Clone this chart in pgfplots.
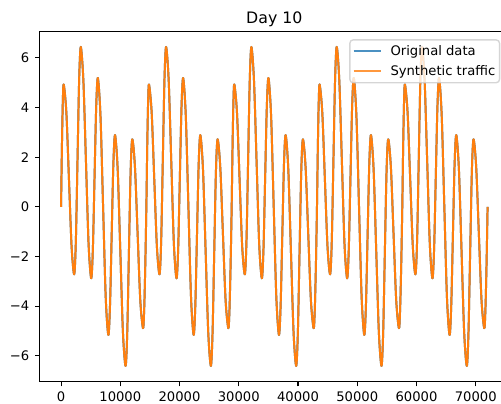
\documentclass[border=0pt]{standalone}
\usepackage{fontspec}
\setmainfont{DejaVu Sans}
\usepackage{pgfplots}
\usepackage{pgfplotstable}
\pgfplotsset{compat=1.18}
\definecolor{mplblue}{HTML}{1F77B4}
\definecolor{mplorange}{HTML}{FF7F0E}
\definecolor{legendedge}{HTML}{CCCCCC}
\newcommand{\lgfont}{\fontsize{9.46}{11.4}\selectfont}

\pgfplotstableread{
x y
0 0
150 2.47
300 4.27
450 4.93
893 3.81
1335 1.11
1778 -1.60
2220 -2.72
2498 -1.38
2775 1.86
3053 5.10
3330 6.44
3770 5.08
4210 1.78
4650 -1.52
5090 -2.88
5370 -1.70
5650 1.16
5930 4.01
6210 5.19
6653 3.68
7095 0.02
7538 -3.64
7980 -5.16
8263 -3.98
8545 -1.14
8828 1.71
9110 2.89
9555 1.53
10000 -1.76
10445 -5.05
10890 -6.41
11173 -5.07
11455 -1.85
11738 1.38
12020 2.72
12473 1.61
12925 -1.09
13378 -3.78
13830 -4.89
14020 -4.23
14210 -2.45
14400 0
14550 2.47
14700 4.27
14850 4.93
15293 3.81
15735 1.11
16178 -1.60
16620 -2.72
16898 -1.38
17175 1.86
17453 5.10
17730 6.44
18170 5.08
18610 1.78
19050 -1.52
19490 -2.88
19770 -1.70
20050 1.16
20330 4.01
20610 5.19
21053 3.68
21495 0.02
21938 -3.64
22380 -5.16
22663 -3.98
22945 -1.14
23228 1.71
23510 2.89
23955 1.53
24400 -1.76
24845 -5.05
25290 -6.41
25573 -5.07
25855 -1.85
26138 1.38
26420 2.72
26873 1.61
27325 -1.09
27778 -3.78
28230 -4.89
28420 -4.23
28610 -2.45
28800 0
28950 2.47
29100 4.27
29250 4.93
29693 3.81
30135 1.11
30578 -1.60
31020 -2.72
31298 -1.38
31575 1.86
31853 5.10
32130 6.44
32570 5.08
33010 1.78
33450 -1.52
33890 -2.88
34170 -1.70
34450 1.16
34730 4.01
35010 5.19
35453 3.68
35895 0.02
36338 -3.64
36780 -5.16
37063 -3.98
37345 -1.14
37628 1.71
37910 2.89
38355 1.53
38800 -1.76
39245 -5.05
39690 -6.41
39973 -5.07
40255 -1.85
40538 1.38
40820 2.72
41273 1.61
41725 -1.09
42178 -3.78
42630 -4.89
42820 -4.23
43010 -2.45
43200 0
43350 2.47
43500 4.27
43650 4.93
44093 3.81
44535 1.11
44978 -1.60
45420 -2.72
45698 -1.38
45975 1.86
46253 5.10
46530 6.44
46970 5.08
47410 1.78
47850 -1.52
48290 -2.88
48570 -1.70
48850 1.16
49130 4.01
49410 5.19
49853 3.68
50295 0.02
50738 -3.64
51180 -5.16
51463 -3.98
51745 -1.14
52028 1.71
52310 2.89
52755 1.53
53200 -1.76
53645 -5.05
54090 -6.41
54373 -5.07
54655 -1.85
54938 1.38
55220 2.72
55673 1.61
56125 -1.09
56578 -3.78
57030 -4.89
57220 -4.23
57410 -2.45
57600 0
57750 2.47
57900 4.27
58050 4.93
58493 3.81
58935 1.11
59378 -1.60
59820 -2.72
60098 -1.38
60375 1.86
60653 5.10
60930 6.44
61370 5.08
61810 1.78
62250 -1.52
62690 -2.88
62970 -1.70
63250 1.16
63530 4.01
63810 5.19
64253 3.68
64695 0.02
65138 -3.64
65580 -5.16
65863 -3.98
66145 -1.14
66428 1.71
66710 2.89
67155 1.53
67600 -1.76
68045 -5.05
68490 -6.41
68773 -5.07
69055 -1.85
69338 1.38
69620 2.72
70073 1.61
70525 -1.09
70978 -3.78
71430 -4.89
71620 -4.23
71810 -2.45
72000 0
}\daydata

\begin{document}
\begin{tikzpicture}
\path[use as bounding box, clip] (-28.6pt,-15.3pt) rectangle (332.1pt,274.9pt);
\begin{axis}[
  at={(0pt,0pt)}, anchor=south west,
  scale only axis, width=337.8pt, height=252pt,
  xmin=-3600, xmax=75600, ymin=-7.05, ymax=7.05,
  xtick={0,10000,20000,30000,40000,50000,60000,70000},
  xticklabels={0,10000,20000,30000,40000,50000,60000,70000},
  ytick={-6,-4,-2,0,2,4,6},
  yticklabels={−6,−4,−2,0,2,4,6},
  scaled x ticks=false,
  tick align=outside, tick pos=left,
  major tick length=3.3pt,
  tick style={line width=0.76pt, black},
  axis line style={line width=0.76pt},
  tick label style={font=\lgfont},
  xticklabel style={inner sep=0pt, text depth=0pt, yshift=-3.9pt},
  yticklabel style={inner sep=0pt, xshift=-4.1pt},
  title={Day 10},
  every axis title/.style={at={(0.5,1)}, anchor=base, yshift=6.3pt,
    font=\fontsize{11.35}{13.6}\selectfont},
  legend cell align=left,
  legend image code/.code={\draw[#1] (0pt,0pt) -- (20pt,0pt);},
  legend style={at={(0.6594,1)}, anchor=north west, yshift=-5.3pt,
    draw=legendedge, line width=1pt, rounded corners=2.5pt,
    fill=white, fill opacity=0.8, draw opacity=0.8, text opacity=1,
    font=\lgfont,
    inner xsep=2pt, inner ysep=2.35pt, row sep=2.8pt,
    nodes={inner xsep=1.1pt, inner ysep=1.5pt, font=\lgfont},
    /tikz/every odd column/.append style={column sep=4.8pt}},
]
\addplot[mplblue, line width=1.42pt, smooth, line join=round] table[x=x,y=y] {\daydata};
\addlegendentry{\lgfont Original data}
\addplot[mplorange, line width=1.42pt, smooth, line join=round] table[x=x,y=y] {\daydata};
\addlegendentry{\lgfont Synthetic traffic\hspace{4pt}}
\end{axis}
\end{tikzpicture}
\end{document}
